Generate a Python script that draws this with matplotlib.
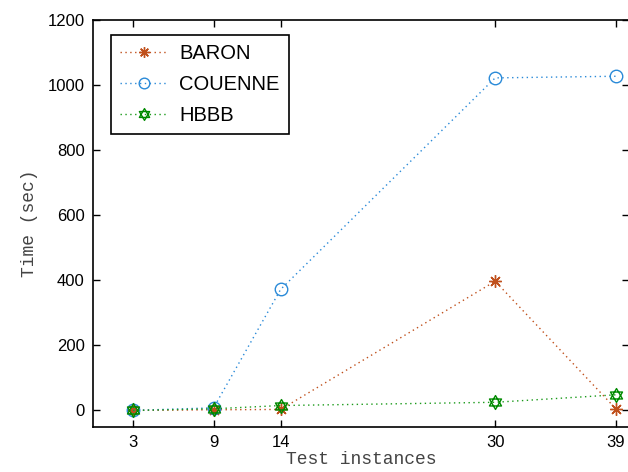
import matplotlib
matplotlib.use("Agg")
import matplotlib.pyplot as plt
import numpy as np
from matplotlib.path import Path

instances = [3, 9, 14, 30, 39]
baron = [0, 2, 3, 397, 5]
couenne = [0, 8, 372, 1022, 1027]
hbbb = [0, 5, 15, 25, 48]
y_ticks = [0, 200, 400, 600, 800, 1000, 1200]


def hexagram() -> Path:
    ang_up = np.deg2rad([90, 210, 330, 90])
    ang_dn = np.deg2rad([270, 30, 150, 270])
    tri_up = Path(np.column_stack([np.cos(ang_up), np.sin(ang_up)]), closed=True)
    tri_dn = Path(np.column_stack([np.cos(ang_dn), np.sin(ang_dn)]), closed=True)
    return Path.make_compound_path(tri_up, tri_dn)


fig = plt.figure(figsize=(6.28, 4.72), dpi=100)
ax = fig.add_axes([0.148, 0.096, 0.854, 0.8617])

dots = (0, (1, 2.5))
ax.plot(instances, baron, linestyle=dots, linewidth=1.0, color="#c0501c",
        marker=(8, 2, 0), markersize=9, markeredgewidth=1.0, label="BARON")
ax.plot(instances, couenne, linestyle=dots, linewidth=1.0, color="#2a8ad8",
        marker="o", markersize=9, fillstyle="none", markeredgewidth=1.0, label="COUENNE")
ax.plot(instances, hbbb, linestyle=dots, linewidth=1.0, color="#1a9a1a",
        marker=hexagram(), markersize=10, fillstyle="none", markeredgewidth=1.0,
        markeredgecolor="#008a00", label="HBBB")

ax.set_xlim(0, 40)
ax.set_ylim(-50, 1200)
ax.set_xticks(instances)
ax.set_yticks(y_ticks)
ax.tick_params(direction="in", length=5, width=1, top=True, right=True,
               labelsize=12, pad=6)
for lab in ax.get_xticklabels() + ax.get_yticklabels():
    lab.set_family("Liberation Sans")
for sp in ax.spines.values():
    sp.set_linewidth(1.2)

ax.set_xlabel("Test instances", family="Liberation Mono", fontsize=13,
              color="#444444", labelpad=1)
ax.set_ylabel("Time (sec)", family="Liberation Mono", fontsize=13,
              color="#444444", labelpad=7)

leg = ax.legend(loc="upper left", bbox_to_anchor=(0.033, 0.963), borderaxespad=0,
                prop={"family": "Liberation Sans", "size": 14.5}, fancybox=False,
                edgecolor="black", framealpha=1, handlelength=2.4,
                labelspacing=0.6, borderpad=0.45, handletextpad=0.55,
                markerscale=0.85)
leg.get_frame().set_linewidth(1.2)

fig.savefig("out.png", dpi=100)
